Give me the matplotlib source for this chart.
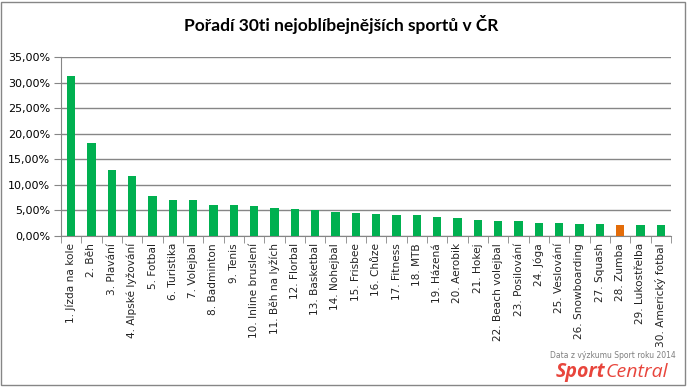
import matplotlib
matplotlib.use("Agg")
import matplotlib.pyplot as plt
from matplotlib.patches import Rectangle
from matplotlib.ticker import FuncFormatter, MultipleLocator
import numpy as np

# data
sports = ["1. Jízda na kole", "2. Běh", "3. Plavání", "4. Alpské lyžování", "5. Fotbal",
          "6. Turistika", "7. Volejbal", "8. Badminton", "9. Tenis", "10. Inline bruslení",
          "11. Běh na lyžích", "12. Florbal", "13. Basketbal", "14. Nohejbal", "15. Frisbee",
          "16. Chůze", "17. Fitness", "18. MTB", "19. Házená", "20. Aerobik",
          "21. Hokej", "22. Beach volejbal", "23. Posilování", "24. Jóga", "25. Veslování",
          "26. Snowboarding", "27. Squash", "28. Zumba", "29. Lukostřelba", "30. Americký fotbal"]
podil = [31.3, 18.2, 12.9, 11.7, 7.8, 7.0, 7.0, 6.05, 6.0, 5.85,
         5.5, 5.3, 5.1, 4.7, 4.5, 4.3, 4.1, 4.1, 3.7, 3.5,
         3.1, 2.9, 2.9, 2.5, 2.5, 2.3, 2.3, 2.1, 2.1, 2.1]
highlight = "28. Zumba"

W, H = 687, 387
fig = plt.figure(figsize=(W / 100, H / 100), dpi=100)
ax = fig.add_axes([61 / W, 1 - 236 / H, (671 - 61) / W, (236 - 57) / H])

colors = ["#E36C09" if s == highlight else "#00B050" for s in sports]
x = np.arange(len(sports))
ax.bar(x, podil, width=0.4, color=colors, zorder=3)

ax.set_xlim(-0.5, len(sports) - 0.5)
ax.set_ylim(0, 35)
ax.yaxis.set_major_locator(MultipleLocator(5))
ax.yaxis.set_major_formatter(FuncFormatter(lambda v, p: ("%.2f%%" % v).replace(".", ",")))
ax.grid(axis="y", color="#868686", linewidth=1, zorder=0)

ax.set_xticks(x)
ax.set_xticklabels(sports, rotation=90, fontsize=7.6, color="#222222")
ax.set_xticks(np.arange(-0.5, len(sports), 1), minor=True)
ax.tick_params(axis="x", which="major", length=0, pad=5)
ax.tick_params(axis="x", which="minor", length=5, color="#868686", direction="out")
ax.tick_params(axis="y", length=5, color="#868686", direction="out", labelsize=8, pad=3)

for side in ["top", "right"]:
    ax.spines[side].set_visible(False)
for side in ["left", "bottom"]:
    ax.spines[side].set_color("#868686")

fig.text(341 / W, 1 - 24 / H, "Pořadí 30ti nejoblíbejnějších sportů v ČR",
         ha="center", va="center", fontsize=12.5, fontweight="bold", family="Lato")

# watermark
fig.text(613 / W, 1 - 356 / H, "Data z výzkumu Sport roku 2014", ha="center", va="center",
         fontsize=5.5, color="#7F7F7F")
t1 = fig.text(556 / W, 1 - 372 / H, "Sport", ha="left", va="center", fontsize=14,
              fontweight="bold", style="italic", color="#E8453C", family="Open Sans")
fig.canvas.draw()
bb = t1.get_window_extent()
fig.text(bb.x1 / W, 1 - 372 / H, "Central", ha="left", va="center", fontsize=14,
         style="italic", color="#E8453C", family="Open Sans")

# outer frame
fig.patches.append(Rectangle((1 / W, 2 / H), (685 - 1) / W, (386 - 3) / H, transform=fig.transFigure,
                             fill=False, edgecolor="#868686", linewidth=1.0))

fig.savefig("out.png", dpi=100)
